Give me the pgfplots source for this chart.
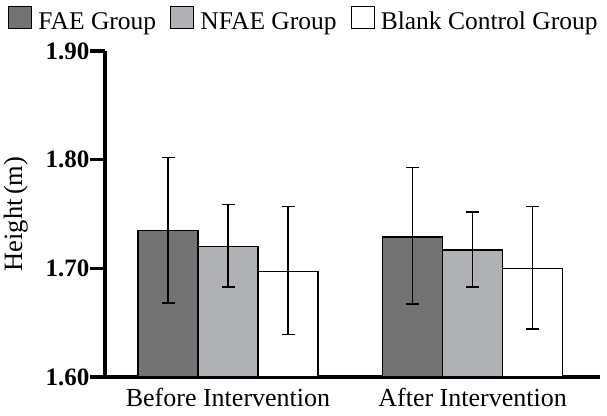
\documentclass[border=0pt]{standalone}
\usepackage{pgfplots}
\pgfplotsset{compat=1.18}
\usepackage{fontspec}
\setmainfont{Liberation Serif}
\definecolor{faeC}{HTML}{737373}
\definecolor{nfaeC}{HTML}{B0B1B4}
\begin{document}
\begin{tikzpicture}
\begin{axis}[
  name=ax,
  scale only axis,
  width=495pt, height=326pt,
  xmin=-0.503, xmax=1.521,
  ymin=1.6, ymax=1.9,
  ytick={1.6,1.7,1.8,1.9},
  yticklabel={\pgfmathprintnumber[fixed,fixed zerofill,precision=2,assume math mode=true]{\tick}},
  yticklabel style={font=\fontsize{25}{25}\selectfont\bfseries, xshift=3pt},
  xtick={0,1},
  xticklabels={Before Intervention, After Intervention},
  xticklabel style={font=\fontsize{26}{26}\selectfont, yshift=5pt, inner sep=1pt},
  axis x line*=bottom, axis y line*=left,
  axis line style={line width=3.5pt,-},
  ytick style={line width=3.5pt,black},
  major tick length=15pt,
  tick align=outside,
  xtick style={draw=none},
  ylabel={Height\,(m)},
  ylabel style={font=\fontsize{26.5}{26.5}\selectfont, at={(axis description cs:-0.18,0.5)}, anchor=center},
  ybar=0pt, bar width=60pt,
  legend style={at={(axis description cs:-0.196,1.061)}, anchor=south west, draw=none, fill=none, font=\fontsize{25.5}{25.5}\selectfont, inner sep=0pt,
    nodes={inner sep=0pt}},
  legend columns=-1,
  legend image code/.code={\draw[#1,line width=1.2pt,draw=black] (0pt,-7pt) rectangle (23pt,15pt);},
  /tikz/every odd column/.append style={column sep=6pt},
  /tikz/every even column/.append style={column sep=14pt},
]
\addplot[fill=faeC, draw=black, line width=1.4pt,
  error bars/.cd, y dir=both, y explicit,
  error bar style={line width=1.4pt,black},
  error mark options={rotate=90,mark size=6.5pt,line width=1.4pt,black}] coordinates {
  (0,1.735) += (0,0.067) -= (0,0.067)
  (1,1.729) += (0,0.064) -= (0,0.062)
};
\addplot[fill=nfaeC, draw=black, line width=1.4pt,
  error bars/.cd, y dir=both, y explicit,
  error bar style={line width=1.4pt,black},
  error mark options={rotate=90,mark size=6.5pt,line width=1.4pt,black}] coordinates {
  (0,1.720) += (0,0.039) -= (0,0.037)
  (1,1.717) += (0,0.035) -= (0,0.034)
};
\addplot[fill=white, draw=black, line width=1.4pt,
  error bars/.cd, y dir=both, y explicit,
  error bar style={line width=1.4pt,black},
  error mark options={rotate=90,mark size=6.5pt,line width=1.4pt,black}] coordinates {
  (0,1.697) += (0,0.060) -= (0,0.058)
  (1,1.700) += (0,0.057) -= (0,0.056)
};
\legend{FAE Group, NFAE Group, Blank Control Group}
\end{axis}
\pgfresetboundingbox
\path (ax.south west) ++(-105pt,-38pt) rectangle ++(607pt,415pt);
\end{tikzpicture}
\end{document}
